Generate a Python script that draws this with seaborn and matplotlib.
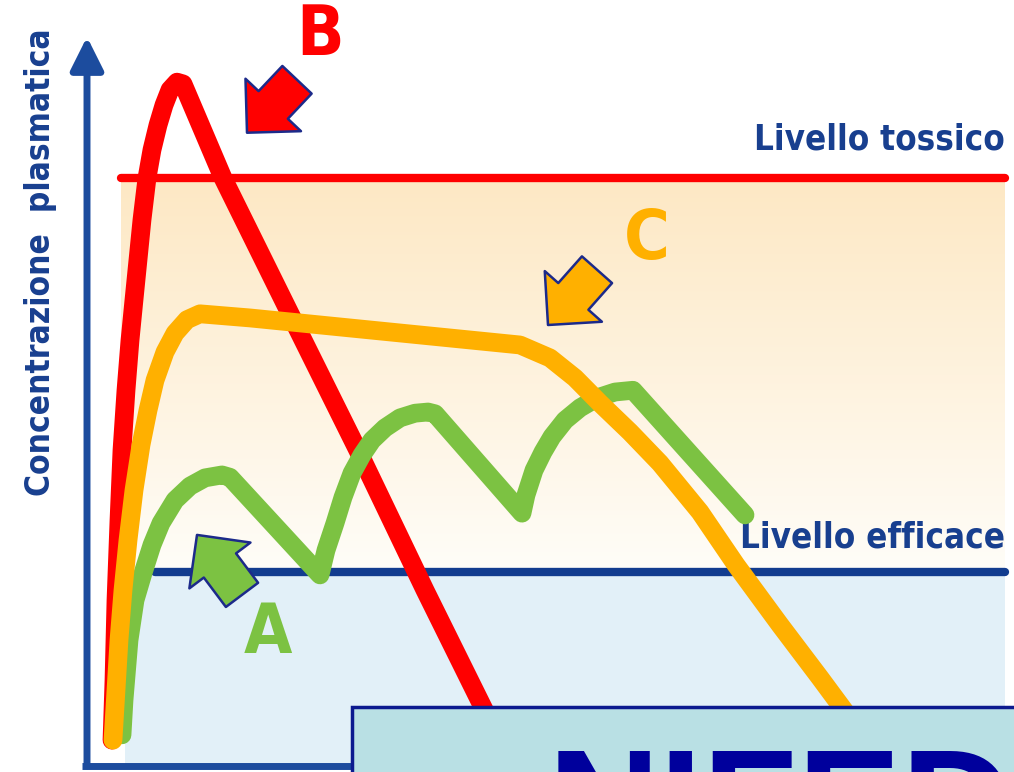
import numpy as np
import pandas as pd
import matplotlib
matplotlib.use("Agg")
import matplotlib.pyplot as plt
from matplotlib import font_manager
from matplotlib.patches import Rectangle
import seaborn as sns

# livelli (concentrazione, unità arbitrarie: livello tossico = 100)
livello_tossico = 100.0
livello_efficace = 33.0

# curva B: dose unica elevata
t_b = [2.5, 2.7, 2.9, 3.2, 3.5, 3.9, 4.3, 4.7, 5.1, 5.5, 6.0, 6.5, 7.1, 7.7, 8.3, 9.0,
       9.6, 13.6, 21.3, 27.4, 33.8, 41.8]
c_b = [4.4, 14.6, 28.2, 41.8, 53.7, 63.9, 72.4, 79.3, 86.1, 92.9, 100.0, 104.8, 109.0, 112.4, 115.0, 116.3,
       116.0, 100.0, 73.5, 52.6, 29.9, 2.4]

# curva C: rilascio prolungato
t_c = [2.6, 2.9, 3.2, 3.6, 4.1, 4.7, 5.4, 6.1, 6.8, 7.8, 8.8, 10.0, 11.3, 16.3,
       43.3, 46.3, 48.8, 51.3, 54.3, 57.3, 61.3, 64.9, 69.3, 73.3, 77.3]
c_c = [4.4, 12.9, 21.4, 29.9, 38.4, 46.9, 54.6, 60.5, 65.6, 70.4, 73.6, 75.9, 76.9, 76.2,
       71.6, 69.4, 66.0, 61.7, 56.8, 51.5, 43.2, 34.2, 24.0, 15.0, 5.8]

# curva A: dosi ripetute
t_a = [3.5, 3.7, 4.2, 4.8, 5.6, 6.5, 7.4, 8.8, 10.3, 11.8, 13.5, 14.3,
       23.3, 23.9, 24.8, 25.6, 26.5, 27.5, 28.5, 29.8, 31.3, 32.8, 34.1, 34.8,
       43.5, 43.9, 44.7, 45.6, 46.5, 47.8, 49.3, 51.0, 52.8, 54.6, 65.8]
c_a = [5.3, 11.2, 21.4, 28.2, 32.8, 37.6, 41.3, 45.2, 47.6, 49.0, 49.5, 49.1,
       32.5, 36.7, 41.3, 45.7, 49.8, 52.9, 55.4, 57.5, 59.2, 60.0, 60.2, 59.9,
       43.0, 46.1, 50.3, 53.4, 56.0, 58.8, 60.9, 62.6, 63.6, 63.9, 42.7]

rosso = "#ff0000"
arancio = "#ffb000"
verde = "#7cc242"
blu = "#123c8f"
blu_testo = "#183f8f"
blu_asse = "#1c4c9e"

sns.set_theme(style="white")
names = {f.name for f in font_manager.fontManager.ttflist}
if "Liberation Sans Narrow" in names:
    narrow = dict(family="Liberation Sans Narrow", fontweight="bold")
else:
    narrow = dict(family="DejaVu Sans", fontstretch="condensed", fontweight="bold")

fig = plt.figure(figsize=(10.14, 7.72), dpi=100)
ax = fig.add_axes([0, 0, 1, 1])

# fasce di sfondo
grad = np.linspace(0, 1, 200)[:, None]
top = np.array(matplotlib.colors.to_rgb("#fde8c4"))
bot = np.array(matplotlib.colors.to_rgb("#fffdf8"))
img = (top * (1 - grad) + bot * grad)[:, None, :]
ax.imshow(img, extent=[3.4, 91.8, livello_efficace, livello_tossico], aspect="auto",
          origin="upper", zorder=0, interpolation="bilinear")
ax.add_patch(Rectangle((3.8, 0), 91.8 - 3.8, livello_efficace, color="#e2f0f8", lw=0, zorder=0))

# livelli
ax.plot([3.4, 91.8], [livello_tossico] * 2, color=rosso, lw=6, solid_capstyle="round", zorder=2)
ax.plot([6.8, 91.8], [livello_efficace] * 2, color=blu, lw=6, solid_capstyle="round", zorder=2)

# curve
for t, c, col, z in [(t_b, c_b, rosso, 3), (t_a, c_a, verde, 4), (t_c, c_c, arancio, 5)]:
    df = pd.DataFrame({"t": t, "c": c})
    sns.lineplot(data=df, x="t", y="c", color=col, linewidth=13.5, sort=False, estimator=None,
                 ax=ax, solid_capstyle="round", solid_joinstyle="round", zorder=z)
ax.set_xlim(-8.7, 92.7)
ax.set_ylim(-1.02, 130.27)
ax.axis("off")

# assi
ax.annotate("", xy=(0, 124.0), xytext=(0, 0),
            arrowprops=dict(arrowstyle="-|>,head_length=1.0,head_width=0.5", lw=5,
                            color=blu_asse, mutation_scale=20, shrinkA=0, shrinkB=0), zorder=6)
ax.plot([-0.5, 92.7], [0, 0], color=blu_asse, lw=5, solid_capstyle="butt", zorder=6)

ax.text(-4.6, 85.7, "Concentrazione  plasmatica", rotation=90, ha="center", va="center",
        fontsize=24, color=blu_testo, **narrow)
ax.text(91.8, 106.5, "Livello tossico", ha="right", va="center", fontsize=25, color=blu_testo, **narrow)
ax.text(91.8, 38.9, "Livello efficace", ha="right", va="center", fontsize=25, color=blu_testo, **narrow)

# etichette e frecce
ax.text(23.3, 124.3, "B", ha="center", va="center", fontsize=50, color=rosso, **narrow)
ax.text(56.0, 89.5, "C", ha="center", va="center", fontsize=50, color=arancio, **narrow)
ax.text(18.1, 22.6, "A", ha="center", va="center", fontsize=50, color=verde, **narrow)

frecce = [((16.0, 107.7), (21.0, 116.7), rosso),
          ((46.1, 75.0), (51.0, 84.4), arancio),
          ((11.0, 39.3), (15.5, 29.1), verde)]
for tip, tail, col in frecce:
    ax.annotate("", xy=tip, xytext=tail,
                arrowprops=dict(arrowstyle="simple,head_length=0.55,head_width=1.1,tail_width=0.58",
                                mutation_scale=50, fc=col, ec="#1c2a8a", lw=1.8,
                                shrinkA=0, shrinkB=0), zorder=7)

# riquadro titolo
ax.add_patch(Rectangle((26.5, -5), 80, 15.0, fc="#b9e0e4", ec="#0c1a8f", lw=2.5, zorder=8))
ax.text(46.1, 3.6, "NIFEDIPINA", ha="left", va="top", fontsize=112, color="#00009c",
        family="Liberation Sans", fontweight="bold", zorder=9)

fig.savefig("out.png", dpi=100)
